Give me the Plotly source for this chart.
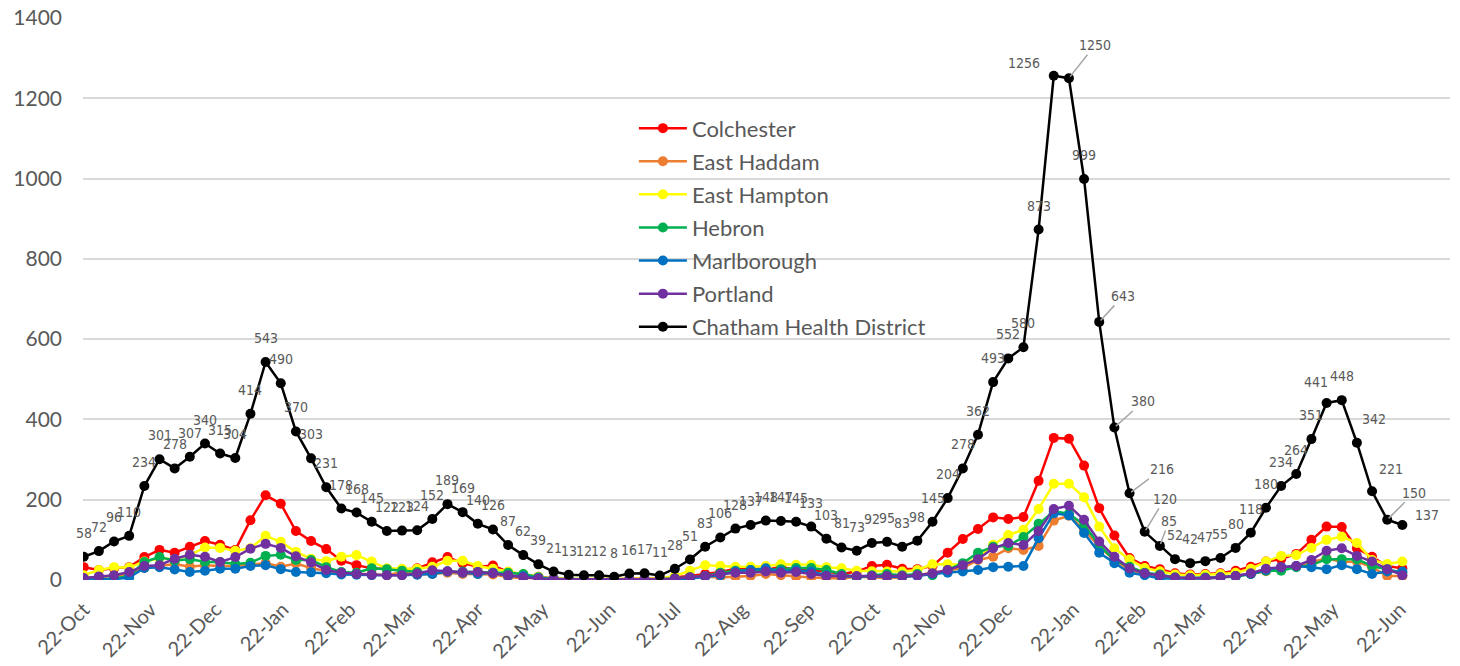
import plotly.graph_objects as go
import pandas as pd

start_date = "2020-10-22"
n_weeks = 88
dates = pd.date_range(start_date, periods=n_weeks, freq="7D")

colchester = [32,25,29,32,57,75,68,83,97,88,
              75,149,211,190,122,97,77,48,37,29,
              27,25,29,44,57,42,33,36,20,14,
              8,4,2,2,2,1,3,3,3,7,
              10,15,20,28,30,25,33,25,25,21,
              15,21,35,38,28,27,35,68,102,127,
              156,152,157,247,354,352,285,179,111,55,
              35,27,17,14,15,17,23,33,46,52,
              65,100,133,132,79,58,35,29]
east_haddam = [5,8,10,15,30,35,40,33,37,35,
               35,38,42,33,41,30,22,18,15,15,
               12,20,14,15,18,15,15,14,7,5,
               5,3,2,2,2,1,2,2,2,4,
               5,8,7,8,10,15,12,8,6,5,
               4,8,7,5,6,12,18,25,30,50,
               58,79,75,85,148,160,125,83,50,25,
               15,10,5,4,4,6,10,15,22,30,
               35,45,54,45,46,32,10,10]
east_hampton = [12,25,32,31,46,54,52,62,81,80,
                73,79,110,95,70,53,47,58,62,46,
                29,28,28,33,48,48,35,28,21,15,
                8,3,3,3,3,3,4,4,4,10,
                23,37,35,33,33,35,39,38,38,32,
                29,23,22,21,21,25,39,39,38,55,
                88,112,125,177,240,240,206,133,79,51,
                30,22,14,12,13,15,18,28,46,60,
                62,80,100,108,92,50,40,46]
hebron = [0,2,4,10,45,57,48,52,45,45,
          40,43,60,63,50,50,32,20,18,29,
          27,23,20,18,21,21,20,18,18,15,
          7,3,2,2,2,1,2,2,2,4,
          7,10,18,23,25,25,27,30,30,25,
          15,7,12,15,12,15,12,25,42,68,
          83,85,107,140,171,165,137,87,50,33,
          18,14,6,5,6,7,8,15,23,23,
          32,37,52,52,52,35,27,18]
marlborough = [0,2,2,6,30,32,26,20,23,28,
               28,35,37,27,20,19,17,14,13,12,
               12,12,13,15,21,18,15,18,10,10,
               5,2,2,1,1,1,1,1,1,2,
               4,8,12,21,25,29,22,24,21,12,
               10,8,10,8,8,10,15,18,21,25,
               32,33,35,104,166,161,117,68,42,18,
               12,4,4,4,4,6,10,15,25,32,
               35,32,27,37,27,15,21,21]
portland = [5,9,12,20,35,37,53,63,58,45,
            57,78,90,80,59,44,25,18,15,13,
            12,12,16,24,22,19,20,17,12,7,
            4,2,2,2,2,1,2,2,2,4,
            7,10,15,18,18,21,18,20,15,10,
            10,10,10,10,10,12,17,25,37,52,
            79,92,87,122,177,185,150,96,58,29,
            17,12,6,5,5,7,10,17,28,32,
            35,50,73,79,60,46,27,12]
chatham = [58,72,96,110,234,301,278,307,340,315,
           304,414,543,490,370,303,231,178,168,145,
           122,123,124,152,189,169,140,126,87,62,
           39,21,13,12,12,8,16,17,11,28,
           51,83,106,128,137,148,147,145,133,103,
           81,73,92,95,83,98,145,204,278,362,
           493,552,580,873,1256,1250,999,643,380,216,
           120,85,52,42,47,55,80,118,180,234,
           264,351,441,448,342,221,150,137]

tick_labels = ["22-Oct","22-Nov","22-Dec","22-Jan","22-Feb","22-Mar","22-Apr",
               "22-May","22-Jun","22-Jul","22-Aug","22-Sep","22-Oct","22-Nov",
               "22-Dec","22-Jan","22-Feb","22-Mar","22-Apr","22-May","22-Jun"]
tick_dates = pd.date_range("2020-10-01", periods=len(tick_labels), freq="MS") + pd.Timedelta(days=21)

series = [
    ("Colchester", colchester, "#FF0000"),
    ("East Haddam", east_haddam, "#ED7D31"),
    ("East Hampton", east_hampton, "#FFFF00"),
    ("Hebron", hebron, "#00B050"),
    ("Marlborough", marlborough, "#0070C0"),
    ("Portland", portland, "#7030A0"),
    ("Chatham Health District", chatham, "#000000"),
]

fig = go.Figure()
for name, vals, col in series:
    fig.add_trace(go.Scatter(
        x=dates, y=vals, name=name, mode="lines+markers", legendgroup=name,
        line=dict(color=col, width=2.5),
        marker=dict(color=col, size=10),
        hoverinfo="x+y+name",
    ))

label_font = dict(family="Liberation Sans Narrow, Arial Narrow, DejaVu Sans Condensed, Liberation Sans",
                  size=14, color="#595959")
# special label placements (pixel offsets): (dx, dy, with_leader)
special = {
    64: (-30, 13, False),
    65: (26, 33, True),
    67: (24, 26, True),
    68: (29, 26, True),
    69: (32, 24, True),
    70: (20, 33, True),
    71: (9, 25, True),
    82: (-11, 21, False),
    84: (17, 24, False),
    85: (19, 22, False),
    86: (27, 27, True),
    87: (25, 10, False),
}
annotations = []
for i, (d, v) in enumerate(zip(dates, chatham)):
    dx, dy, lead = special.get(i, (0, 24, False))
    if lead:
        annotations.append(dict(x=d, y=v, text=str(v), showarrow=True, arrowhead=0,
                                arrowwidth=1.5, arrowcolor="#A6A6A6", ax=dx, ay=-dy,
                                standoff=2, font=label_font))
    else:
        annotations.append(dict(x=d, y=v, text=str(v), showarrow=False,
                                xshift=dx, yshift=dy, font=label_font))

y_font = dict(family="Lato, Carlito, Calibri, sans-serif", size=21, color="#595959")
x_font = dict(family="Lato, Carlito, Calibri, sans-serif", size=20, color="#595959")

fig.update_layout(
    width=1460, height=666,
    margin=dict(l=83, r=10, t=18, b=86),
    plot_bgcolor="white", paper_bgcolor="white",
    showlegend=True,
    legend=dict(x=0.403, y=0.841, xanchor="left", yanchor="top",
                bgcolor="rgba(0,0,0,0)", font=dict(family="Lato, Carlito, Calibri, sans-serif",
                                                  size=22, color="#595959"),
                itemwidth=48, traceorder="grouped", tracegroupgap=1.5),
    annotations=annotations,
    xaxis=dict(type="date", range=[pd.Timestamp(start_date) - pd.Timedelta(hours=8), "2022-07-15"],
               tickvals=tick_dates, ticktext=tick_labels, tickangle=-45,
               showgrid=False, zeroline=False, showline=False, ticks="",
               tickfont=x_font, ticklabelstandoff=13, automargin=False),
    yaxis=dict(range=[0, 1400], dtick=200, showgrid=True, gridcolor="#D9D9D9", gridwidth=1.5,
               zeroline=False, showline=False, ticks="", tickfont=y_font,
               ticklabelstandoff=20, automargin=False),
)

fig.write_html("out.html", config={"displayModeBar": False},
               post_script="document.body.style.margin='0';document.body.style.overflow='hidden';")
